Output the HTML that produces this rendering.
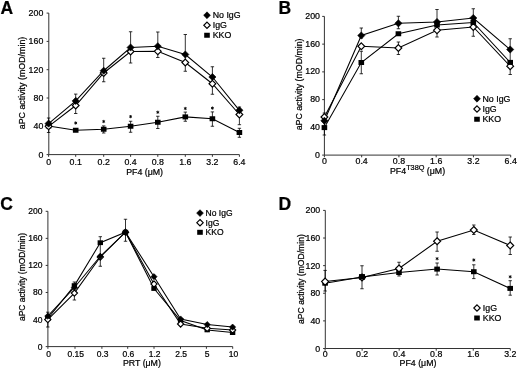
<!DOCTYPE html>
<html><head><meta charset="utf-8"><style>
html,body{margin:0;padding:0;background:#fff;}
body{width:520px;height:368px;overflow:hidden;}
svg{display:block;font-family:"Liberation Sans",sans-serif;will-change:transform;}
text{stroke:#000;stroke-width:0.22px;}
</style></head><body>
<svg width="520" height="368" viewBox="0 0 520 368">
<rect width="520" height="368" fill="#fff"/>
<text x="0.6" y="13.6" font-size="17.5" font-weight="bold" fill="#000">A</text>
<path d="M48.8 13.1V154.6H239.4" stroke="#333" stroke-width="1" fill="none"/>
<path d="M46.60 154.60H48.8" stroke="#333" stroke-width="1"/>
<text x="43.30" y="157.60" font-size="8.8" text-anchor="end" fill="#000" >0</text>
<path d="M46.60 126.30H48.8" stroke="#333" stroke-width="1"/>
<text x="43.30" y="129.30" font-size="8.8" text-anchor="end" fill="#000" >40</text>
<path d="M46.60 98.00H48.8" stroke="#333" stroke-width="1"/>
<text x="43.30" y="101.00" font-size="8.8" text-anchor="end" fill="#000" >80</text>
<path d="M46.60 69.70H48.8" stroke="#333" stroke-width="1"/>
<text x="43.30" y="72.70" font-size="8.8" text-anchor="end" fill="#000" >120</text>
<path d="M46.60 41.40H48.8" stroke="#333" stroke-width="1"/>
<text x="43.30" y="44.40" font-size="8.8" text-anchor="end" fill="#000" >160</text>
<path d="M46.60 13.10H48.8" stroke="#333" stroke-width="1"/>
<text x="43.30" y="16.10" font-size="8.8" text-anchor="end" fill="#000" >200</text>
<path d="M48.60 154.6V156.79999999999998" stroke="#333" stroke-width="1"/>
<text x="48.60" y="164.90" font-size="8.8" text-anchor="middle" fill="#000" >0</text>
<path d="M75.70 154.6V156.79999999999998" stroke="#333" stroke-width="1"/>
<text x="75.70" y="164.90" font-size="8.8" text-anchor="middle" fill="#000" >0.1</text>
<path d="M103.70 154.6V156.79999999999998" stroke="#333" stroke-width="1"/>
<text x="103.70" y="164.90" font-size="8.8" text-anchor="middle" fill="#000" >0.2</text>
<path d="M130.60 154.6V156.79999999999998" stroke="#333" stroke-width="1"/>
<text x="130.60" y="164.90" font-size="8.8" text-anchor="middle" fill="#000" >0.4</text>
<path d="M157.80 154.6V156.79999999999998" stroke="#333" stroke-width="1"/>
<text x="157.80" y="164.90" font-size="8.8" text-anchor="middle" fill="#000" >0.8</text>
<path d="M185.30 154.6V156.79999999999998" stroke="#333" stroke-width="1"/>
<text x="185.30" y="164.90" font-size="8.8" text-anchor="middle" fill="#000" >1.6</text>
<path d="M212.40 154.6V156.79999999999998" stroke="#333" stroke-width="1"/>
<text x="212.40" y="164.90" font-size="8.8" text-anchor="middle" fill="#000" >3.2</text>
<path d="M239.40 154.6V156.79999999999998" stroke="#333" stroke-width="1"/>
<text x="239.40" y="164.90" font-size="8.8" text-anchor="middle" fill="#000" >6.4</text>
<text x="144.60" y="174.60" font-size="8.8" text-anchor="middle" fill="#000" >PF4 (μM)</text>
<text transform="translate(25.30,83.00) rotate(-90)" font-size="8.87" text-anchor="middle" fill="#000">aPC activity (mOD/min)</text>
<path d="M48.60 118.00V132.50M46.90 118.00H50.30M46.90 132.50H50.30" stroke="#000" stroke-width="0.8" fill="none"/>
<path d="M75.70 94.10V113.50M74.00 94.10H77.40M74.00 113.50H77.40" stroke="#000" stroke-width="0.8" fill="none"/>
<path d="M103.70 58.25V81.75M102.00 58.25H105.40M102.00 81.75H105.40" stroke="#000" stroke-width="0.8" fill="none"/>
<path d="M130.60 31.75V63.00M128.90 31.75H132.30M128.90 63.00H132.30" stroke="#000" stroke-width="0.8" fill="none"/>
<path d="M157.80 32.00V57.50M156.10 32.00H159.50M156.10 57.50H159.50" stroke="#000" stroke-width="0.8" fill="none"/>
<path d="M185.30 34.50V71.25M183.60 34.50H187.00M183.60 71.25H187.00" stroke="#000" stroke-width="0.8" fill="none"/>
<path d="M212.40 66.75V94.25M210.70 66.75H214.10M210.70 94.25H214.10" stroke="#000" stroke-width="0.8" fill="none"/>
<path d="M239.40 107.00V124.70M237.70 107.00H241.10M237.70 124.70H241.10" stroke="#000" stroke-width="0.8" fill="none"/>
<path d="M103.70 125.90V133.00M102.00 125.90H105.40M102.00 133.00H105.40" stroke="#000" stroke-width="0.8" fill="none"/>
<path d="M130.60 121.25V132.25M128.90 121.25H132.30M128.90 132.25H132.30" stroke="#000" stroke-width="0.8" fill="none"/>
<path d="M157.80 116.25V128.50M156.10 116.25H159.50M156.10 128.50H159.50" stroke="#000" stroke-width="0.8" fill="none"/>
<path d="M185.30 112.10V121.25M183.60 112.10H187.00M183.60 121.25H187.00" stroke="#000" stroke-width="0.8" fill="none"/>
<path d="M212.40 111.90V126.25M210.70 111.90H214.10M210.70 126.25H214.10" stroke="#000" stroke-width="0.8" fill="none"/>
<path d="M239.40 128.30V137.30M237.70 128.30H241.10M237.70 137.30H241.10" stroke="#000" stroke-width="0.8" fill="none"/>
<polyline points="48.60,126.00 75.70,130.25 103.70,129.25 130.60,126.25 157.80,122.25 185.30,116.90 212.40,118.75 239.40,132.50" fill="none" stroke="#000" stroke-width="1.05"/>
<polyline points="48.60,126.30 75.70,105.50 103.70,73.00 130.60,51.50 157.80,51.30 185.30,62.50 212.40,83.75 239.40,114.50" fill="none" stroke="#000" stroke-width="1.05"/>
<polyline points="48.60,123.60 75.70,100.90 103.70,70.75 130.60,47.50 157.80,46.25 185.30,54.50 212.40,77.00 239.40,110.30" fill="none" stroke="#000" stroke-width="1.05"/>
<rect x="45.80" y="123.50" width="5.60" height="5.00" fill="#000"/>
<rect x="72.90" y="127.75" width="5.60" height="5.00" fill="#000"/>
<rect x="100.90" y="126.75" width="5.60" height="5.00" fill="#000"/>
<rect x="127.80" y="123.75" width="5.60" height="5.00" fill="#000"/>
<rect x="155.00" y="119.75" width="5.60" height="5.00" fill="#000"/>
<rect x="182.50" y="114.40" width="5.60" height="5.00" fill="#000"/>
<rect x="209.60" y="116.25" width="5.60" height="5.00" fill="#000"/>
<rect x="236.60" y="130.00" width="5.60" height="5.00" fill="#000"/>
<path d="M48.60 122.90L52.00 126.30L48.60 129.70L45.20 126.30Z" fill="#fff" stroke="#000" stroke-width="1.15"/>
<path d="M75.70 102.10L79.10 105.50L75.70 108.90L72.30 105.50Z" fill="#fff" stroke="#000" stroke-width="1.15"/>
<path d="M103.70 69.60L107.10 73.00L103.70 76.40L100.30 73.00Z" fill="#fff" stroke="#000" stroke-width="1.15"/>
<path d="M130.60 48.10L134.00 51.50L130.60 54.90L127.20 51.50Z" fill="#fff" stroke="#000" stroke-width="1.15"/>
<path d="M157.80 47.90L161.20 51.30L157.80 54.70L154.40 51.30Z" fill="#fff" stroke="#000" stroke-width="1.15"/>
<path d="M185.30 59.10L188.70 62.50L185.30 65.90L181.90 62.50Z" fill="#fff" stroke="#000" stroke-width="1.15"/>
<path d="M212.40 80.35L215.80 83.75L212.40 87.15L209.00 83.75Z" fill="#fff" stroke="#000" stroke-width="1.15"/>
<path d="M239.40 111.10L242.80 114.50L239.40 117.90L236.00 114.50Z" fill="#fff" stroke="#000" stroke-width="1.15"/>
<path d="M48.60 120.00L52.20 123.60L48.60 127.20L45.00 123.60Z" fill="#000" stroke="#000" stroke-width="0.6"/>
<path d="M75.70 97.30L79.30 100.90L75.70 104.50L72.10 100.90Z" fill="#000" stroke="#000" stroke-width="0.6"/>
<path d="M103.70 67.15L107.30 70.75L103.70 74.35L100.10 70.75Z" fill="#000" stroke="#000" stroke-width="0.6"/>
<path d="M130.60 43.90L134.20 47.50L130.60 51.10L127.00 47.50Z" fill="#000" stroke="#000" stroke-width="0.6"/>
<path d="M157.80 42.65L161.40 46.25L157.80 49.85L154.20 46.25Z" fill="#000" stroke="#000" stroke-width="0.6"/>
<path d="M185.30 50.90L188.90 54.50L185.30 58.10L181.70 54.50Z" fill="#000" stroke="#000" stroke-width="0.6"/>
<path d="M212.40 73.40L216.00 77.00L212.40 80.60L208.80 77.00Z" fill="#000" stroke="#000" stroke-width="0.6"/>
<path d="M239.40 106.70L243.00 110.30L239.40 113.90L235.80 110.30Z" fill="#000" stroke="#000" stroke-width="0.6"/>
<path d="M75.70 121.40L75.70 124.60M77.09 122.20L74.31 123.80M77.09 123.80L74.31 122.20" stroke="#000" stroke-width="0.9" fill="none"/>
<path d="M103.70 119.90L103.70 123.10M105.09 120.70L102.31 122.30M105.09 122.30L102.31 120.70" stroke="#000" stroke-width="0.9" fill="none"/>
<path d="M130.60 115.00L130.60 118.20M131.99 115.80L129.21 117.40M131.99 117.40L129.21 115.80" stroke="#000" stroke-width="0.9" fill="none"/>
<path d="M157.80 110.65L157.80 113.85M159.19 111.45L156.41 113.05M159.19 113.05L156.41 111.45" stroke="#000" stroke-width="0.9" fill="none"/>
<path d="M185.30 106.90L185.30 110.10M186.69 107.70L183.91 109.30M186.69 109.30L183.91 107.70" stroke="#000" stroke-width="0.9" fill="none"/>
<path d="M212.40 106.50L212.40 109.70M213.79 107.30L211.01 108.90M213.79 108.90L211.01 107.30" stroke="#000" stroke-width="0.9" fill="none"/>
<path d="M207.00 11.85L210.40 15.25L207.00 18.65L203.60 15.25Z" fill="#000" stroke="#000" stroke-width="0.6"/>
<text x="212.70" y="18.35" font-size="8.8" text-anchor="start" fill="#000" >No IgG</text>
<path d="M207.00 22.05L210.20 25.25L207.00 28.45L203.80 25.25Z" fill="#fff" stroke="#000" stroke-width="1.15"/>
<text x="212.70" y="28.35" font-size="8.8" text-anchor="start" fill="#000" >IgG</text>
<rect x="204.20" y="32.75" width="5.60" height="5.00" fill="#000"/>
<text x="212.70" y="38.35" font-size="8.8" text-anchor="start" fill="#000" >KKO</text>
<text x="278.6" y="13.5" font-size="17.5" font-weight="bold" fill="#000">B</text>
<path d="M324.4 16.4V155.1H510.69999999999993" stroke="#333" stroke-width="1" fill="none"/>
<path d="M322.20 155.10H324.4" stroke="#333" stroke-width="1"/>
<text x="320.00" y="157.50" font-size="8.8" text-anchor="end" fill="#000" >0</text>
<path d="M322.20 127.36H324.4" stroke="#333" stroke-width="1"/>
<text x="320.00" y="129.76" font-size="8.8" text-anchor="end" fill="#000" >40</text>
<path d="M322.20 99.62H324.4" stroke="#333" stroke-width="1"/>
<text x="320.00" y="102.02" font-size="8.8" text-anchor="end" fill="#000" >80</text>
<path d="M322.20 71.88H324.4" stroke="#333" stroke-width="1"/>
<text x="320.00" y="74.28" font-size="8.8" text-anchor="end" fill="#000" >120</text>
<path d="M322.20 44.14H324.4" stroke="#333" stroke-width="1"/>
<text x="320.00" y="46.54" font-size="8.8" text-anchor="end" fill="#000" >160</text>
<path d="M322.20 16.40H324.4" stroke="#333" stroke-width="1"/>
<text x="320.00" y="18.80" font-size="8.8" text-anchor="end" fill="#000" >200</text>
<path d="M324.40 155.1V157.29999999999998" stroke="#333" stroke-width="1"/>
<text x="324.40" y="163.90" font-size="8.8" text-anchor="middle" fill="#000" >0</text>
<path d="M361.66 155.1V157.29999999999998" stroke="#333" stroke-width="1"/>
<text x="361.66" y="163.90" font-size="8.8" text-anchor="middle" fill="#000" >0.4</text>
<path d="M398.92 155.1V157.29999999999998" stroke="#333" stroke-width="1"/>
<text x="398.92" y="163.90" font-size="8.8" text-anchor="middle" fill="#000" >0.8</text>
<path d="M436.18 155.1V157.29999999999998" stroke="#333" stroke-width="1"/>
<text x="436.18" y="163.90" font-size="8.8" text-anchor="middle" fill="#000" >1.6</text>
<path d="M473.44 155.1V157.29999999999998" stroke="#333" stroke-width="1"/>
<text x="473.44" y="163.90" font-size="8.8" text-anchor="middle" fill="#000" >3.2</text>
<path d="M510.70 155.1V157.29999999999998" stroke="#333" stroke-width="1"/>
<text x="510.70" y="163.90" font-size="8.8" text-anchor="middle" fill="#000" >6.4</text>
<text x="390.0" y="174.4" font-size="8.8" fill="#000">PF4<tspan font-size="7.3" dy="-4.4">T38Q</tspan><tspan dy="4.4"> (μM)</tspan></text>
<text transform="translate(302.30,84.40) rotate(-90)" font-size="8.81" text-anchor="middle" fill="#000">aPC activity (mOD/min)</text>
<path d="M324.40 113.00V135.00M322.70 113.00H326.10M322.70 135.00H326.10" stroke="#000" stroke-width="0.8" fill="none"/>
<path d="M361.30 28.00V38.00M359.60 28.00H363.00M359.60 38.00H363.00" stroke="#000" stroke-width="0.8" fill="none"/>
<path d="M398.40 16.25V28.75M396.70 16.25H400.10M396.70 28.75H400.10" stroke="#000" stroke-width="0.8" fill="none"/>
<path d="M437.00 9.50V37.00M435.30 9.50H438.70M435.30 37.00H438.70" stroke="#000" stroke-width="0.8" fill="none"/>
<path d="M473.30 8.75V36.25M471.60 8.75H475.00M471.60 36.25H475.00" stroke="#000" stroke-width="0.8" fill="none"/>
<path d="M510.20 38.75V74.50M508.50 38.75H511.90M508.50 74.50H511.90" stroke="#000" stroke-width="0.8" fill="none"/>
<path d="M361.30 51.25V73.75M359.60 51.25H363.00M359.60 73.75H363.00" stroke="#000" stroke-width="0.8" fill="none"/>
<path d="M398.40 42.00V54.50M396.70 42.00H400.10M396.70 54.50H400.10" stroke="#000" stroke-width="0.8" fill="none"/>
<polyline points="324.40,127.60 361.30,62.50 398.40,33.75 437.00,25.00 473.30,22.50 510.20,62.40" fill="none" stroke="#000" stroke-width="1.05"/>
<polyline points="324.40,117.00 361.30,46.25 398.40,48.00 437.00,30.30 473.30,27.00 510.20,66.20" fill="none" stroke="#000" stroke-width="1.05"/>
<polyline points="324.40,120.80 361.30,35.50 398.40,23.30 437.00,22.00 473.30,18.00 510.20,49.50" fill="none" stroke="#000" stroke-width="1.05"/>
<path d="M324.40 113.60L327.80 117.00L324.40 120.40L321.00 117.00Z" fill="#fff" stroke="#000" stroke-width="1.15"/>
<path d="M361.30 42.85L364.70 46.25L361.30 49.65L357.90 46.25Z" fill="#fff" stroke="#000" stroke-width="1.15"/>
<path d="M398.40 44.60L401.80 48.00L398.40 51.40L395.00 48.00Z" fill="#fff" stroke="#000" stroke-width="1.15"/>
<path d="M437.00 26.90L440.40 30.30L437.00 33.70L433.60 30.30Z" fill="#fff" stroke="#000" stroke-width="1.15"/>
<path d="M473.30 23.60L476.70 27.00L473.30 30.40L469.90 27.00Z" fill="#fff" stroke="#000" stroke-width="1.15"/>
<path d="M510.20 62.80L513.60 66.20L510.20 69.60L506.80 66.20Z" fill="#fff" stroke="#000" stroke-width="1.15"/>
<rect x="321.60" y="125.10" width="5.60" height="5.00" fill="#000"/>
<rect x="358.50" y="60.00" width="5.60" height="5.00" fill="#000"/>
<rect x="395.60" y="31.25" width="5.60" height="5.00" fill="#000"/>
<rect x="434.20" y="22.50" width="5.60" height="5.00" fill="#000"/>
<rect x="470.50" y="20.00" width="5.60" height="5.00" fill="#000"/>
<rect x="507.40" y="59.90" width="5.60" height="5.00" fill="#000"/>
<path d="M324.40 117.20L328.00 120.80L324.40 124.40L320.80 120.80Z" fill="#000" stroke="#000" stroke-width="0.6"/>
<path d="M361.30 31.90L364.90 35.50L361.30 39.10L357.70 35.50Z" fill="#000" stroke="#000" stroke-width="0.6"/>
<path d="M398.40 19.70L402.00 23.30L398.40 26.90L394.80 23.30Z" fill="#000" stroke="#000" stroke-width="0.6"/>
<path d="M437.00 18.40L440.60 22.00L437.00 25.60L433.40 22.00Z" fill="#000" stroke="#000" stroke-width="0.6"/>
<path d="M473.30 14.40L476.90 18.00L473.30 21.60L469.70 18.00Z" fill="#000" stroke="#000" stroke-width="0.6"/>
<path d="M510.20 45.90L513.80 49.50L510.20 53.10L506.60 49.50Z" fill="#000" stroke="#000" stroke-width="0.6"/>
<path d="M477.00 95.35L480.40 98.75L477.00 102.15L473.60 98.75Z" fill="#000" stroke="#000" stroke-width="0.6"/>
<text x="482.50" y="101.85" font-size="8.8" text-anchor="start" fill="#000" >No IgG</text>
<path d="M477.00 105.80L480.20 109.00L477.00 112.20L473.80 109.00Z" fill="#fff" stroke="#000" stroke-width="1.15"/>
<text x="482.50" y="112.10" font-size="8.8" text-anchor="start" fill="#000" >IgG</text>
<rect x="474.20" y="116.75" width="5.60" height="5.00" fill="#000"/>
<text x="482.50" y="122.35" font-size="8.8" text-anchor="start" fill="#000" >KKO</text>
<text x="0.2" y="210.4" font-size="17.5" font-weight="bold" fill="#000">C</text>
<path d="M47.9 211.3V346.6H232.7" stroke="#333" stroke-width="1" fill="none"/>
<path d="M45.70 346.60H47.9" stroke="#333" stroke-width="1"/>
<text x="42.50" y="349.60" font-size="8.5" text-anchor="end" fill="#000" >0</text>
<path d="M45.70 319.54H47.9" stroke="#333" stroke-width="1"/>
<text x="42.50" y="322.54" font-size="8.5" text-anchor="end" fill="#000" >40</text>
<path d="M45.70 292.48H47.9" stroke="#333" stroke-width="1"/>
<text x="42.50" y="295.48" font-size="8.5" text-anchor="end" fill="#000" >80</text>
<path d="M45.70 265.42H47.9" stroke="#333" stroke-width="1"/>
<text x="42.50" y="268.42" font-size="8.5" text-anchor="end" fill="#000" >120</text>
<path d="M45.70 238.36H47.9" stroke="#333" stroke-width="1"/>
<text x="42.50" y="241.36" font-size="8.5" text-anchor="end" fill="#000" >160</text>
<path d="M45.70 211.30H47.9" stroke="#333" stroke-width="1"/>
<text x="42.50" y="214.30" font-size="8.5" text-anchor="end" fill="#000" >200</text>
<path d="M47.90 346.6V348.8" stroke="#333" stroke-width="1"/>
<text x="48.60" y="356.90" font-size="8.5" text-anchor="middle" fill="#000" >0</text>
<path d="M75.00 346.6V348.8" stroke="#333" stroke-width="1"/>
<text x="75.70" y="356.90" font-size="8.5" text-anchor="middle" fill="#000" >0.15</text>
<path d="M101.90 346.6V348.8" stroke="#333" stroke-width="1"/>
<text x="102.60" y="356.90" font-size="8.5" text-anchor="middle" fill="#000" >0.3</text>
<path d="M127.70 346.6V348.8" stroke="#333" stroke-width="1"/>
<text x="128.40" y="356.90" font-size="8.5" text-anchor="middle" fill="#000" >0.6</text>
<path d="M154.00 346.6V348.8" stroke="#333" stroke-width="1"/>
<text x="154.70" y="356.90" font-size="8.5" text-anchor="middle" fill="#000" >1.2</text>
<path d="M180.50 346.6V348.8" stroke="#333" stroke-width="1"/>
<text x="181.20" y="356.90" font-size="8.5" text-anchor="middle" fill="#000" >2.5</text>
<path d="M206.40 346.6V348.8" stroke="#333" stroke-width="1"/>
<text x="207.10" y="356.90" font-size="8.5" text-anchor="middle" fill="#000" >5</text>
<path d="M232.70 346.6V348.8" stroke="#333" stroke-width="1"/>
<text x="233.40" y="356.90" font-size="8.5" text-anchor="middle" fill="#000" >10</text>
<text x="141.90" y="366.20" font-size="8.8" text-anchor="middle" fill="#000" >PRT (μM)</text>
<text transform="translate(25.00,277.00) rotate(-90)" font-size="8.45" text-anchor="middle" fill="#000">aPC activity (mOD/min)</text>
<path d="M47.80 312.20V327.00M46.10 312.20H49.50M46.10 327.00H49.50" stroke="#000" stroke-width="0.8" fill="none"/>
<path d="M74.40 282.00V300.00M72.70 282.00H76.10M72.70 300.00H76.10" stroke="#000" stroke-width="0.8" fill="none"/>
<path d="M100.30 236.70V266.25M98.60 236.70H102.00M98.60 266.25H102.00" stroke="#000" stroke-width="0.8" fill="none"/>
<path d="M125.50 219.25V241.25M123.80 219.25H127.20M123.80 241.25H127.20" stroke="#000" stroke-width="0.8" fill="none"/>
<polyline points="47.80,318.50 74.40,285.60 100.30,242.70 125.50,232.20 154.00,288.50 180.60,320.50 207.20,329.90 232.60,332.60" fill="none" stroke="#000" stroke-width="1.05"/>
<polyline points="47.80,319.60 74.40,293.10 100.30,257.00 125.50,232.20 154.00,284.00 180.60,324.00 207.20,328.30 232.60,330.00" fill="none" stroke="#000" stroke-width="1.05"/>
<polyline points="47.80,316.10 74.40,287.50 100.30,256.25 125.50,232.20 154.00,276.70 180.60,319.00 207.20,324.60 232.60,327.10" fill="none" stroke="#000" stroke-width="1.05"/>
<rect x="45.11" y="316.10" width="5.38" height="4.80" fill="#000"/>
<rect x="71.71" y="283.20" width="5.38" height="4.80" fill="#000"/>
<rect x="97.61" y="240.30" width="5.38" height="4.80" fill="#000"/>
<rect x="122.81" y="229.80" width="5.38" height="4.80" fill="#000"/>
<rect x="151.31" y="286.10" width="5.38" height="4.80" fill="#000"/>
<rect x="177.91" y="318.10" width="5.38" height="4.80" fill="#000"/>
<rect x="204.51" y="327.50" width="5.38" height="4.80" fill="#000"/>
<rect x="229.91" y="330.20" width="5.38" height="4.80" fill="#000"/>
<path d="M47.80 316.50L50.90 319.60L47.80 322.70L44.70 319.60Z" fill="#fff" stroke="#000" stroke-width="1.15"/>
<path d="M74.40 290.00L77.50 293.10L74.40 296.20L71.30 293.10Z" fill="#fff" stroke="#000" stroke-width="1.15"/>
<path d="M100.30 253.90L103.40 257.00L100.30 260.10L97.20 257.00Z" fill="#fff" stroke="#000" stroke-width="1.15"/>
<path d="M125.50 229.10L128.60 232.20L125.50 235.30L122.40 232.20Z" fill="#fff" stroke="#000" stroke-width="1.15"/>
<path d="M154.00 280.90L157.10 284.00L154.00 287.10L150.90 284.00Z" fill="#fff" stroke="#000" stroke-width="1.15"/>
<path d="M180.60 320.90L183.70 324.00L180.60 327.10L177.50 324.00Z" fill="#fff" stroke="#000" stroke-width="1.15"/>
<path d="M207.20 325.20L210.30 328.30L207.20 331.40L204.10 328.30Z" fill="#fff" stroke="#000" stroke-width="1.15"/>
<path d="M232.60 326.90L235.70 330.00L232.60 333.10L229.50 330.00Z" fill="#fff" stroke="#000" stroke-width="1.15"/>
<path d="M47.80 313.00L50.90 316.10L47.80 319.20L44.70 316.10Z" fill="#000" stroke="#000" stroke-width="0.6"/>
<path d="M74.40 284.40L77.50 287.50L74.40 290.60L71.30 287.50Z" fill="#000" stroke="#000" stroke-width="0.6"/>
<path d="M100.30 253.15L103.40 256.25L100.30 259.35L97.20 256.25Z" fill="#000" stroke="#000" stroke-width="0.6"/>
<path d="M125.50 229.10L128.60 232.20L125.50 235.30L122.40 232.20Z" fill="#000" stroke="#000" stroke-width="0.6"/>
<path d="M154.00 273.60L157.10 276.70L154.00 279.80L150.90 276.70Z" fill="#000" stroke="#000" stroke-width="0.6"/>
<path d="M180.60 315.90L183.70 319.00L180.60 322.10L177.50 319.00Z" fill="#000" stroke="#000" stroke-width="0.6"/>
<path d="M207.20 321.50L210.30 324.60L207.20 327.70L204.10 324.60Z" fill="#000" stroke="#000" stroke-width="0.6"/>
<path d="M232.60 324.00L235.70 327.10L232.60 330.20L229.50 327.10Z" fill="#000" stroke="#000" stroke-width="0.6"/>
<path d="M200.00 209.70L203.40 213.10L200.00 216.50L196.60 213.10Z" fill="#000" stroke="#000" stroke-width="0.6"/>
<text x="205.60" y="216.20" font-size="8.5" text-anchor="start" fill="#000" >No IgG</text>
<path d="M200.00 219.50L203.20 222.70L200.00 225.90L196.80 222.70Z" fill="#fff" stroke="#000" stroke-width="1.15"/>
<text x="205.60" y="225.80" font-size="8.5" text-anchor="start" fill="#000" >IgG</text>
<rect x="197.20" y="229.80" width="5.60" height="5.00" fill="#000"/>
<text x="205.60" y="235.40" font-size="8.5" text-anchor="start" fill="#000" >KKO</text>
<text x="278.6" y="209.6" font-size="17.5" font-weight="bold" fill="#000">D</text>
<path d="M325.3 210.4V348.5H510.3" stroke="#333" stroke-width="1" fill="none"/>
<path d="M323.10 348.50H325.3" stroke="#333" stroke-width="1"/>
<text x="320.20" y="351.50" font-size="8.8" text-anchor="end" fill="#000" >0</text>
<path d="M323.10 320.88H325.3" stroke="#333" stroke-width="1"/>
<text x="320.20" y="323.88" font-size="8.8" text-anchor="end" fill="#000" >40</text>
<path d="M323.10 293.26H325.3" stroke="#333" stroke-width="1"/>
<text x="320.20" y="296.26" font-size="8.8" text-anchor="end" fill="#000" >80</text>
<path d="M323.10 265.64H325.3" stroke="#333" stroke-width="1"/>
<text x="320.20" y="268.64" font-size="8.8" text-anchor="end" fill="#000" >120</text>
<path d="M323.10 238.02H325.3" stroke="#333" stroke-width="1"/>
<text x="320.20" y="241.02" font-size="8.8" text-anchor="end" fill="#000" >160</text>
<path d="M323.10 210.40H325.3" stroke="#333" stroke-width="1"/>
<text x="320.20" y="213.40" font-size="8.8" text-anchor="end" fill="#000" >200</text>
<path d="M325.10 348.5V350.7" stroke="#333" stroke-width="1"/>
<text x="325.10" y="356.90" font-size="8.8" text-anchor="middle" fill="#000" >0</text>
<path d="M362.14 348.5V350.7" stroke="#333" stroke-width="1"/>
<text x="362.14" y="356.90" font-size="8.8" text-anchor="middle" fill="#000" >0.2</text>
<path d="M399.18 348.5V350.7" stroke="#333" stroke-width="1"/>
<text x="399.18" y="356.90" font-size="8.8" text-anchor="middle" fill="#000" >0.4</text>
<path d="M436.22 348.5V350.7" stroke="#333" stroke-width="1"/>
<text x="436.22" y="356.90" font-size="8.8" text-anchor="middle" fill="#000" >0.8</text>
<path d="M473.26 348.5V350.7" stroke="#333" stroke-width="1"/>
<text x="473.26" y="356.90" font-size="8.8" text-anchor="middle" fill="#000" >1.6</text>
<path d="M510.30 348.5V350.7" stroke="#333" stroke-width="1"/>
<text x="510.30" y="356.90" font-size="8.8" text-anchor="middle" fill="#000" >3.2</text>
<text x="418.00" y="366.20" font-size="8.8" text-anchor="middle" fill="#000" >PF4 (μM)</text>
<text transform="translate(303.60,279.10) rotate(-90)" font-size="8.6" text-anchor="middle" fill="#000">aPC activity (mOD/min)</text>
<path d="M325.10 270.40V291.00M323.40 270.40H326.80M323.40 291.00H326.80" stroke="#000" stroke-width="0.8" fill="none"/>
<path d="M362.00 265.75V288.75M360.30 265.75H363.70M360.30 288.75H363.70" stroke="#000" stroke-width="0.8" fill="none"/>
<path d="M399.00 262.25V276.00M397.30 262.25H400.70M397.30 276.00H400.70" stroke="#000" stroke-width="0.8" fill="none"/>
<path d="M437.10 232.00V251.25M435.40 232.00H438.80M435.40 251.25H438.80" stroke="#000" stroke-width="0.8" fill="none"/>
<path d="M473.80 225.00V234.50M472.10 225.00H475.50M472.10 234.50H475.50" stroke="#000" stroke-width="0.8" fill="none"/>
<path d="M510.20 237.00V254.50M508.50 237.00H511.90M508.50 254.50H511.90" stroke="#000" stroke-width="0.8" fill="none"/>
<path d="M437.10 263.00V275.00M435.40 263.00H438.80M435.40 275.00H438.80" stroke="#000" stroke-width="0.8" fill="none"/>
<path d="M473.80 264.80V278.60M472.10 264.80H475.50M472.10 278.60H475.50" stroke="#000" stroke-width="0.8" fill="none"/>
<path d="M510.20 280.70V295.20M508.50 280.70H511.90M508.50 295.20H511.90" stroke="#000" stroke-width="0.8" fill="none"/>
<polyline points="325.10,283.20 362.00,276.90 399.00,272.50 437.10,269.10 473.80,271.70 510.20,288.40" fill="none" stroke="#000" stroke-width="1.05"/>
<polyline points="325.10,281.60 362.00,277.50 399.00,268.50 437.10,241.25 473.80,230.00 510.20,245.50" fill="none" stroke="#000" stroke-width="1.05"/>
<rect x="322.30" y="280.70" width="5.60" height="5.00" fill="#000"/>
<rect x="359.20" y="274.40" width="5.60" height="5.00" fill="#000"/>
<rect x="396.20" y="270.00" width="5.60" height="5.00" fill="#000"/>
<rect x="434.30" y="266.60" width="5.60" height="5.00" fill="#000"/>
<rect x="471.00" y="269.20" width="5.60" height="5.00" fill="#000"/>
<rect x="507.40" y="285.90" width="5.60" height="5.00" fill="#000"/>
<path d="M325.10 278.10L328.60 281.60L325.10 285.10L321.60 281.60Z" fill="#fff" stroke="#000" stroke-width="1.15"/>
<path d="M362.00 274.00L365.50 277.50L362.00 281.00L358.50 277.50Z" fill="#fff" stroke="#000" stroke-width="1.15"/>
<path d="M399.00 265.00L402.50 268.50L399.00 272.00L395.50 268.50Z" fill="#fff" stroke="#000" stroke-width="1.15"/>
<path d="M437.10 237.75L440.60 241.25L437.10 244.75L433.60 241.25Z" fill="#fff" stroke="#000" stroke-width="1.15"/>
<path d="M473.80 226.50L477.30 230.00L473.80 233.50L470.30 230.00Z" fill="#fff" stroke="#000" stroke-width="1.15"/>
<path d="M510.20 242.00L513.70 245.50L510.20 249.00L506.70 245.50Z" fill="#fff" stroke="#000" stroke-width="1.15"/>
<rect x="358.98" y="274.20" width="6.05" height="5.40" fill="#000"/>
<path d="M437.10 257.10L437.10 260.30M438.49 257.90L435.71 259.50M438.49 259.50L435.71 257.90" stroke="#000" stroke-width="0.9" fill="none"/>
<path d="M473.80 258.40L473.80 261.60M475.19 259.20L472.41 260.80M475.19 260.80L472.41 259.20" stroke="#000" stroke-width="0.9" fill="none"/>
<path d="M510.20 275.20L510.20 278.40M511.59 276.00L508.81 277.60M511.59 277.60L508.81 276.00" stroke="#000" stroke-width="0.9" fill="none"/>
<path d="M477.00 304.80L480.20 308.00L477.00 311.20L473.80 308.00Z" fill="#fff" stroke="#000" stroke-width="1.15"/>
<text x="482.80" y="311.10" font-size="8.8" text-anchor="start" fill="#000" >IgG</text>
<rect x="474.20" y="315.50" width="5.60" height="5.00" fill="#000"/>
<text x="482.80" y="321.10" font-size="8.8" text-anchor="start" fill="#000" >KKO</text>
</svg>
</body></html>
